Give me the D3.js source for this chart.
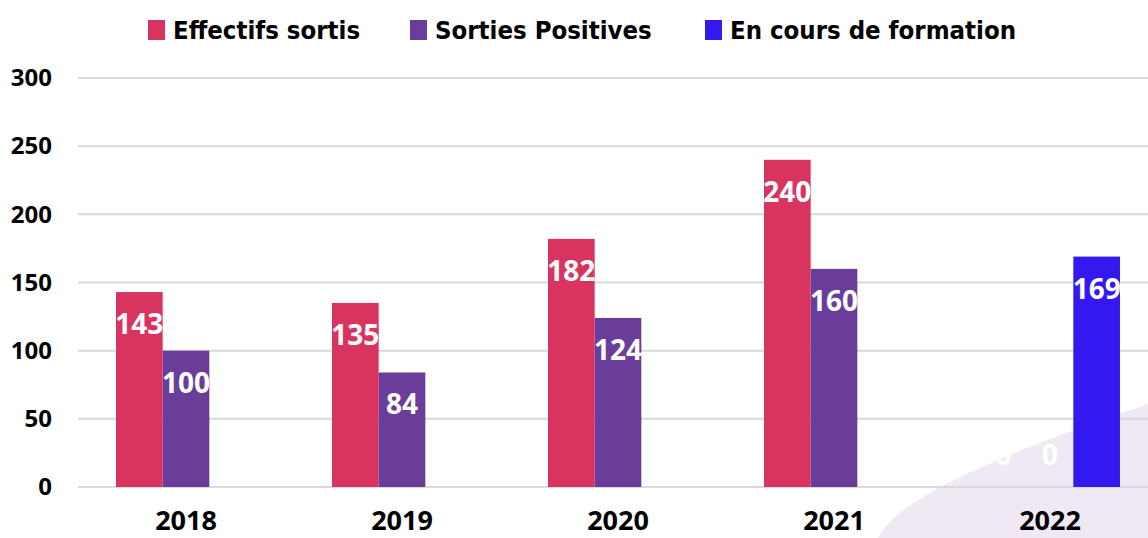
<!DOCTYPE html>
<html>
<head>
<meta charset="utf-8">
<script src="https://cdn.jsdelivr.net/npm/d3@7"></script>
<style>
  body { margin: 0; background: #fff; }
  svg { display: block; }
</style>
</head>
<body>
<div id="wrapper"></div>
<script>
const years = ["2018", "2019", "2020", "2021", "2022"]
const seriesNames = ["Effectifs sortis", "Sorties Positives", "En cours de formation"]
const effectifsSortis = [143, 135, 182, 240, 0]
const sortiesPositives = [100, 84, 124, 160, 0]
const enCoursFormation = [null, null, null, null, 169]
const yTicks = [0, 50, 100, 150, 200, 250, 300]
const colors = ["#d93360", "#6a3d9a", "#3319f0"]

function drawChart(){
    const seriesValues = [effectifsSortis, sortiesPositives, enCoursFormation]

    const dimensions = {
        width: 1148,
        height: 538,
        margin: { top: 78, bottom: 51, left: 78, right: -10 },
    }
    dimensions.boundedWidth = dimensions.width - dimensions.margin.left - dimensions.margin.right
    dimensions.boundedHeight = dimensions.height - dimensions.margin.top - dimensions.margin.bottom

    const wrapper = d3.select("#wrapper")
        .append("svg")
        .attr("width", dimensions.width)
        .attr("height", dimensions.height)

    // faint background swoosh, bottom right
    wrapper.append("path")
        .attr("d", "M 878 538 C 895 505, 960 468, 1148 404 L 1148 538 Z")
        .attr("fill", "#f0e9f4")

    const bounds = wrapper.append("g")
        .attr("transform", `translate(${dimensions.margin.left},${dimensions.margin.top})`)

    const xScale = d3.scaleBand()
        .domain(years)
        .range([0, dimensions.boundedWidth])
        .paddingInner(0.352)
        .paddingOuter(0.176)

    const seriesScale = d3.scaleBand()
        .domain(seriesNames)
        .range([0, xScale.bandwidth()])

    const yScale = d3.scaleLinear()
        .domain([0, 300])
        .range([dimensions.boundedHeight, 0])

    // gridlines
    bounds.append("g")
        .selectAll("line")
        .data(yTicks)
        .join("line")
        .attr("x1", 0)
        .attr("x2", dimensions.boundedWidth)
        .attr("y1", d => yScale(d))
        .attr("y2", d => yScale(d))
        .attr("stroke", "#d9d9d9")
        .attr("stroke-width", 2)

    // y axis labels
    const yAxisGenerator = d3.axisLeft(yScale).tickValues(yTicks).tickSize(0).tickPadding(26)
    const yAxis = bounds.append("g").call(yAxisGenerator)
    yAxis.select(".domain").remove()
    yAxis.selectAll("text")
        .attr("fill", "#000")
        .style("font-family", "'Open Sans', sans-serif")
        .style("font-weight", "bold")
        .style("font-size", "24px")

    // x axis labels
    const xAxisGenerator = d3.axisBottom(xScale).tickSize(0).tickPadding(24)
    const xAxis = bounds.append("g")
        .attr("transform", `translate(0,${dimensions.boundedHeight})`)
        .call(xAxisGenerator)
    xAxis.select(".domain").remove()
    xAxis.selectAll("text")
        .attr("fill", "#000")
        .style("font-family", "'Open Sans', sans-serif")
        .style("font-weight", "bold")
        .style("font-size", "27px")

    const flat = []
    years.forEach((year, i) => {
        seriesNames.forEach((name, j) => {
            const v = seriesValues[j][i]
            if (v !== null) flat.push({ year, name, value: v, color: colors[j] })
        })
    })

    const barX = d => xScale(d.year) + seriesScale(d.name)

    bounds.append("g")
        .selectAll("rect")
        .data(flat)
        .join("rect")
        .attr("x", barX)
        .attr("y", d => yScale(d.value))
        .attr("width", seriesScale.bandwidth())
        .attr("height", d => dimensions.boundedHeight - yScale(d.value))
        .attr("fill", d => d.color)

    bounds.append("g")
        .selectAll("text")
        .data(flat)
        .join("text")
        .attr("x", d => barX(d) + seriesScale.bandwidth() / 2)
        .attr("y", d => Math.min(yScale(d.value) + 42, dimensions.boundedHeight - 22))
        .attr("text-anchor", "middle")
        .attr("fill", "#fff")
        .style("font-family", "'Open Sans', sans-serif")
        .style("font-weight", "bold")
        .style("font-size", "28px")
        .text(d => d.value)

    // legend
    const legendX = [148, 410, 705]
    const legend = wrapper.append("g")
        .selectAll("g")
        .data(seriesNames)
        .join("g")
        .attr("transform", (d, i) => `translate(${legendX[i]},20)`)
    legend.append("rect")
        .attr("width", 17)
        .attr("height", 20)
        .attr("fill", (d, i) => colors[i])
    legend.append("text")
        .attr("x", 25)
        .attr("y", 19)
        .attr("fill", "#000")
        .style("font-family", "'DejaVu Sans Condensed', sans-serif")
        .style("font-weight", "bold")
        .style("font-size", "25.5px")
        .text(d => d)
}

drawChart()
</script>
</body>
</html>
